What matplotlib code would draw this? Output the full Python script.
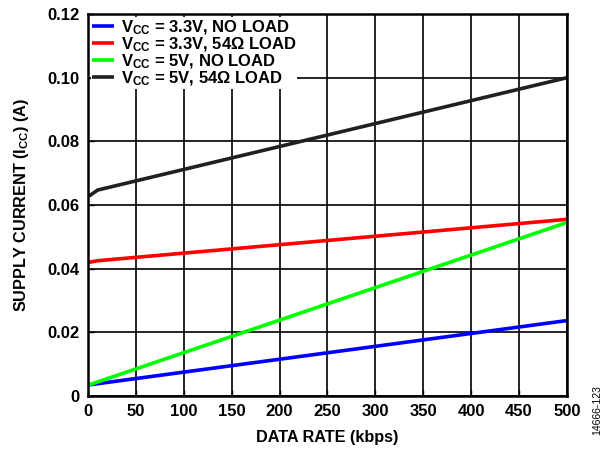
import matplotlib
matplotlib.use("Agg")
import matplotlib.pyplot as plt

plt.rcParams['font.family'] = ['Liberation Sans', 'DejaVu Sans']
plt.rcParams['font.weight'] = 'bold'
plt.rcParams['mathtext.fontset'] = 'custom'
plt.rcParams['mathtext.rm'] = 'Liberation Sans:bold'
plt.rcParams['mathtext.it'] = 'Liberation Sans:bold'
plt.rcParams['mathtext.bf'] = 'Liberation Sans:bold'

# Data rate (kbps)
x_black = [1, 10, 500]
y_black = [0.0628, 0.0647, 0.1000]
x_red = [1, 10, 500]
y_red = [0.0420, 0.0425, 0.0555]
x_green = [1, 500]
y_green = [0.0035, 0.0545]
x_blue = [1, 500]
y_blue = [0.0035, 0.0237]

labels = [r"V$_{\rm CC}$ = 3.3V, NO LOAD",
          r"V$_{\rm CC}$ = 3.3V, 54Ω LOAD",
          r"V$_{\rm CC}$ = 5V, NO LOAD",
          r"V$_{\rm CC}$ = 5V, 54Ω LOAD"]
xticks = [0, 50, 100, 150, 200, 250, 300, 350, 400, 450, 500]
yticks = [0, 0.02, 0.04, 0.06, 0.08, 0.10, 0.12]
ytick_labels = ["0", "0.02", "0.04", "0.06", "0.08", "0.10", "0.12"]

fig = plt.figure(figsize=(6.05, 4.53), dpi=100)
ax = fig.add_axes([0.1455, 0.1258, 0.937 - 0.1455, 0.969 - 0.1258])

lw = 2.6
ax.plot(x_blue, y_blue, color='#0000ff', lw=lw, label=labels[0], solid_capstyle='butt')
ax.plot(x_red, y_red, color='#ff0000', lw=lw, label=labels[1], solid_capstyle='butt')
ax.plot(x_green, y_green, color='#00ff00', lw=lw, label=labels[2], solid_capstyle='butt')
ax.plot(x_black, y_black, color='#231f20', lw=lw, label=labels[3], solid_capstyle='butt')

ax.set_xlim(0, 500)
ax.set_ylim(0, 0.12)
ax.set_xticks(xticks)
ax.set_yticks(yticks)
ax.set_yticklabels(ytick_labels)
ax.tick_params(direction='in', length=4, width=1, labelsize=12, pad=6)
for lab in ax.get_xticklabels() + ax.get_yticklabels():
    lab.set_fontweight('bold')
ax.grid(True, color='black', lw=1.2)
ax.set_axisbelow(True)
for s in ax.spines.values():
    s.set_linewidth(1.8)

ax.set_xlabel("DATA RATE (kbps)", fontsize=11.7, fontweight='bold', labelpad=8)
ax.set_ylabel(r"SUPPLY CURRENT (I$_{\rm CC}$) (A)", fontsize=11.7, fontweight='bold', labelpad=12)

leg = ax.legend(loc='upper left', bbox_to_anchor=(0.0, 1.0), frameon=True,
                fancybox=False, edgecolor='none', facecolor='white', framealpha=1,
                handlelength=1.3, handletextpad=0.4, labelspacing=-0.08,
                borderpad=0.05, borderaxespad=0.2, prop={'weight': 'bold', 'size': 12.0})
leg.set_zorder(5)

fig.text(0.987, 0.095, "14666-123", rotation=90, fontsize=7.5, fontweight='normal',
         ha='center', va='center')

fig.savefig("out.png", dpi=100)
